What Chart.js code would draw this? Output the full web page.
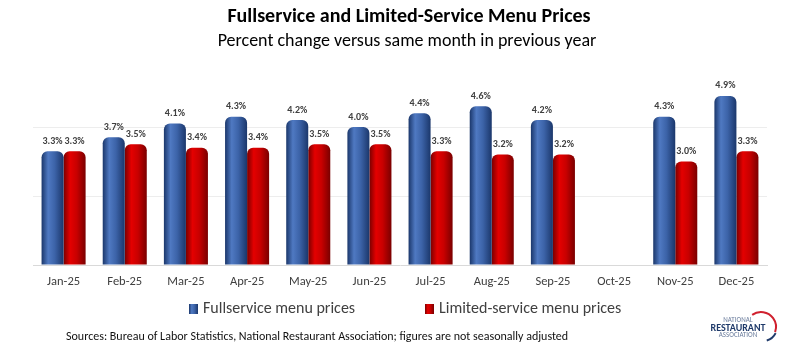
<!DOCTYPE html>
<html>
<head>
<meta charset="utf-8">
<script src="https://cdn.jsdelivr.net/npm/chart.js@4.4.1/dist/chart.umd.min.js"></script>
<style>
  html, body { margin: 0; padding: 0; background: #fff; }
  #wrap { width: 798px; height: 345px; }
</style>
</head>
<body>
<div id="wrap"><canvas id="chart" width="798" height="345"></canvas></div>
<script>
// chart data
const months = ['Jan-25', 'Feb-25', 'Mar-25', 'Apr-25', 'May-25', 'Jun-25', 'Jul-25', 'Aug-25', 'Sep-25', 'Oct-25', 'Nov-25', 'Dec-25'];
const fullservice = [3.3, 3.7, 4.1, 4.3, 4.2, 4.0, 4.4, 4.6, 4.2, null, 4.3, 4.9];
const limitedService = [3.3, 3.5, 3.4, 3.4, 3.5, 3.5, 3.3, 3.2, 3.2, null, 3.0, 3.3];
const seriesNames = ['Fullservice menu prices', 'Limited-service menu prices'];

const FONT = 'Carlito, "Liberation Sans Narrow", Roboto, sans-serif';
const TEXT = '#404040';
const CAT_PCT = 0.72;

// dark edge / light center stops for the 3d look
const palettes = [
    ['#1b376b', '#4f79c2', '#3c63a8', '#1b376b'],
    ['#7a0000', '#e40000', '#c80000', '#7a0000']
];

function makeGradient(ctx, left, width, pal) {
    const g = ctx.createLinearGradient(left, 0, left + width, 0);
    g.addColorStop(0, pal[0]);
    g.addColorStop(0.3, pal[1]);
    g.addColorStop(0.6, pal[2]);
    g.addColorStop(1, pal[3]);
    return g;
}

function barFill(c) {
    const pal = palettes[c.datasetIndex];
    const chart = c.chart;
    const xs = chart.scales && chart.scales.x;
    if (!xs || c.dataIndex == null || !chart.chartArea) return pal[1];
    const catW = xs.width / months.length;
    const barW = catW * CAT_PCT / 2;
    const center = xs.getPixelForValue(c.dataIndex);
    const left = center - barW + c.datasetIndex * barW;
    return makeGradient(chart.ctx, left, barW, pal);
}

// titles, value labels, legend, source line and logo
const decorations = {
    id: 'decorations',
    afterDatasetsDraw(chart) {
        const ctx = chart.ctx;
        ctx.save();
        ctx.fillStyle = TEXT;
        ctx.font = 'bold 10px ' + FONT;
        ctx.textAlign = 'center';
        ctx.textBaseline = 'bottom';
        chart.data.datasets.forEach((ds, di) => {
            const meta = chart.getDatasetMeta(di);
            meta.data.forEach((bar, i) => {
                if (ds.data[i] == null) return;
                ctx.fillText(ds.data[i].toFixed(1) + '%', bar.x, bar.y - 5);
            });
        });
        ctx.restore();
    },
    afterDraw(chart) {
        const ctx = chart.ctx;
        ctx.save();
        ctx.textAlign = 'center';
        ctx.textBaseline = 'middle';
        ctx.fillStyle = '#000';
        ctx.font = 'bold 20px ' + FONT;
        ctx.fillText('Fullservice and Limited-Service Menu Prices', 409, 17);
        ctx.font = '18px ' + FONT;
        ctx.fillText('Percent change versus same month in previous year', 407, 41);

        // legend
        const legendX = [189, 425];
        ctx.textAlign = 'left';
        ctx.font = '16px ' + FONT;
        seriesNames.forEach((name, i) => {
            const x = legendX[i];
            ctx.fillStyle = makeGradient(ctx, x, 9, palettes[i]);
            ctx.fillRect(x, 304, 9, 10);
            ctx.fillStyle = TEXT;
            ctx.fillText(name, x + 14, 309);
        });

        ctx.font = '12px ' + FONT;
        ctx.fillStyle = '#111';
        ctx.fillText('Sources: Bureau of Labor Statistics, National Restaurant Association; figures are not seasonally adjusted', 66, 337);

        // logo
        ctx.lineWidth = 2;
        ctx.strokeStyle = '#d0202e';
        ctx.beginPath();
        ctx.arc(761, 327, 15, -2.2, 0.35);
        ctx.stroke();
        ctx.strokeStyle = '#1f3a6a';
        ctx.beginPath();
        ctx.arc(763, 327, 14, 0.45, 1.3);
        ctx.stroke();
        ctx.textAlign = 'center';
        ctx.fillStyle = '#6a7c9c';
        ctx.font = '7px ' + FONT;
        ctx.fillText('NATIONAL', 738, 320);
        ctx.fillStyle = '#1f3a6a';
        ctx.font = 'bold 10px ' + FONT;
        ctx.fillText('RESTAURANT', 738, 328);
        ctx.fillStyle = '#6a7c9c';
        ctx.font = '7px ' + FONT;
        ctx.fillText('ASSOCIATION', 738, 335);
        ctx.restore();
    }
};

new Chart(document.getElementById('chart'), {
    type: 'bar',
    data: {
        labels: months,
        datasets: [
            { label: seriesNames[0], data: fullservice, backgroundColor: barFill },
            { label: seriesNames[1], data: limitedService, backgroundColor: barFill }
        ]
    },
    options: {
        responsive: false,
        animation: false,
        layout: { padding: { top: 58, left: 33, right: 31, bottom: 55 } },
        datasets: {
            bar: {
                categoryPercentage: CAT_PCT,
                barPercentage: 1,
                borderRadius: 6,
                borderSkipped: 'start'
            }
        },
        plugins: {
            title: { display: false },
            tooltip: { enabled: false },
            legend: { display: false }
        },
        scales: {
            x: {
                grid: { display: false },
                border: { color: '#d9d9d9', width: 1 },
                ticks: { color: TEXT, font: { family: FONT, size: 12.5 }, padding: 1 }
            },
            y: {
                min: 0,
                max: 6,
                ticks: { display: false, stepSize: 2 },
                border: { display: false },
                grid: {
                    color: (c) => (c.tick && (c.tick.value === 2 || c.tick.value === 4)) ? '#ededed' : 'rgba(0,0,0,0)',
                    drawTicks: false
                }
            }
        }
    },
    plugins: [decorations]
});
</script>
</body>
</html>
